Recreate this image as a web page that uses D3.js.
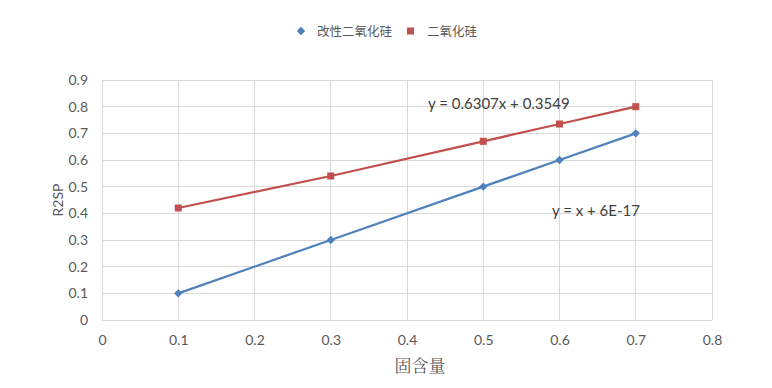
<!DOCTYPE html>
<html><head><meta charset="utf-8">
<script src="https://cdn.jsdelivr.net/npm/d3@7"></script>
<style>body{margin:0;background:#fff}svg{display:block}</style>
</head><body><svg id="c" width="772" height="388"></svg>
<script>
const xValues = [0.1, 0.3, 0.5, 0.6, 0.7];
const modifiedSilica = [0.1, 0.3, 0.5, 0.6, 0.7];
const silica = [0.42, 0.54, 0.67, 0.735, 0.80];
const xTicks = [0, 0.1, 0.2, 0.3, 0.4, 0.5, 0.6, 0.7, 0.8];
const yTicks = [0, 0.1, 0.2, 0.3, 0.4, 0.5, 0.6, 0.7, 0.8, 0.9];
const seriesNames = ["改性二氧化硅", "二氧化硅"];
const colors = ["#4F81BD", "#C0504D"];
const eqs = ["y = x + 6E-17", "y = 0.6307x + 0.3549"];

const svg = d3.select("#c");
const font = "Lato, 'Liberation Sans', 'Noto Sans CJK SC', sans-serif";
const x = d3.scaleLinear().domain([0, 0.8]).range([102, 712]);
const y = d3.scaleLinear().domain([0, 0.9]).range([320, 80]);
const diamond = "M0,-4.2L4.2,0L0,4.2L-4.2,0Z";

const g = svg.append("g");
g.selectAll(".hg").data(yTicks).join("line")
  .attr("x1", x(0)).attr("x2", x(0.8)).attr("y1", d => y(d)).attr("y2", d => y(d))
  .attr("stroke", "#d9d9d9").attr("stroke-width", 1).attr("shape-rendering", "crispEdges");
g.selectAll(".vg").data(xTicks).join("line")
  .attr("x1", d => x(d)).attr("x2", d => x(d)).attr("y1", y(0)).attr("y2", y(0.9))
  .attr("stroke", "#d9d9d9").attr("stroke-width", 1).attr("shape-rendering", "crispEdges");

const xAxis = d3.axisBottom(x).tickValues(xTicks).tickSize(0).tickFormat(d => d3.format("")(d));
const xa = svg.append("g").attr("transform", `translate(0,${y(0)})`).call(xAxis);
xa.select(".domain").remove();
xa.selectAll("text").attr("dy", 0).attr("y", 25).attr("fill", "#595959")
  .style("font-family", font).style("font-size", "14px");

const yAxis = d3.axisLeft(y).tickValues(yTicks).tickSize(0).tickFormat(d => d3.format("")(d));
const ya = svg.append("g").attr("transform", `translate(${x(0)},0)`).call(yAxis);
ya.select(".domain").remove();
ya.selectAll("text").attr("x", -14).attr("fill", "#595959")
  .style("font-family", font).style("font-size", "14px");

const data = [modifiedSilica, silica];
const line = d3.line().x((d, i) => x(xValues[i])).y(d => y(d));
data.forEach((vals, s) => {
  svg.append("path").datum(vals).attr("d", line).attr("fill", "none")
    .attr("stroke", colors[s]).attr("stroke-width", 2.25);
  if (s === 0) {
    svg.selectAll(".m0").data(vals).join("path")
      .attr("d", diamond)
      .attr("transform", (d, i) => `translate(${x(xValues[i])},${y(d)})`)
      .attr("fill", colors[s]);
  } else {
    svg.selectAll(".m1").data(vals).join("rect")
      .attr("x", (d, i) => x(xValues[i]) - 3.5).attr("y", d => y(d) - 3.5)
      .attr("width", 7).attr("height", 7).attr("fill", colors[s]);
  }
});

// equations
svg.append("text").attr("x", 552).attr("y", 216).text(eqs[0])
  .attr("fill", "#404040").style("font-family", font).style("font-size", "15px");
svg.append("text").attr("x", 428).attr("y", 109).text(eqs[1])
  .attr("fill", "#404040").style("font-family", font).style("font-size", "15px");

// axis titles
svg.append("text").attr("transform", `translate(63,${y(0.45)}) rotate(-90)`)
  .attr("text-anchor", "middle").text("R2SP").attr("fill", "#595959")
  .style("font-family", font).style("font-size", "14px");
svg.append("text").attr("x", 420).attr("y", 372).attr("text-anchor", "middle")
  .text("固含量").attr("fill", "#595959")
  .style("font-family", "'Noto Serif CJK SC','Noto Sans CJK SC', sans-serif").style("font-size", "17px");

// legend
const leg = svg.append("g");
leg.append("path").attr("d", diamond).attr("transform", "translate(301,31)").attr("fill", colors[0]);
leg.append("text").attr("x", 317).attr("y", 36).text(seriesNames[0]).attr("fill", "#595959")
  .style("font-family", "'Noto Sans CJK SC', sans-serif").style("font-size", "12.5px");
leg.append("rect").attr("x", 407).attr("y", 27.5).attr("width", 7).attr("height", 7).attr("fill", colors[1]);
leg.append("text").attr("x", 427).attr("y", 36).text(seriesNames[1]).attr("fill", "#595959")
  .style("font-family", "'Noto Sans CJK SC', sans-serif").style("font-size", "12.5px");
</script></body></html>
